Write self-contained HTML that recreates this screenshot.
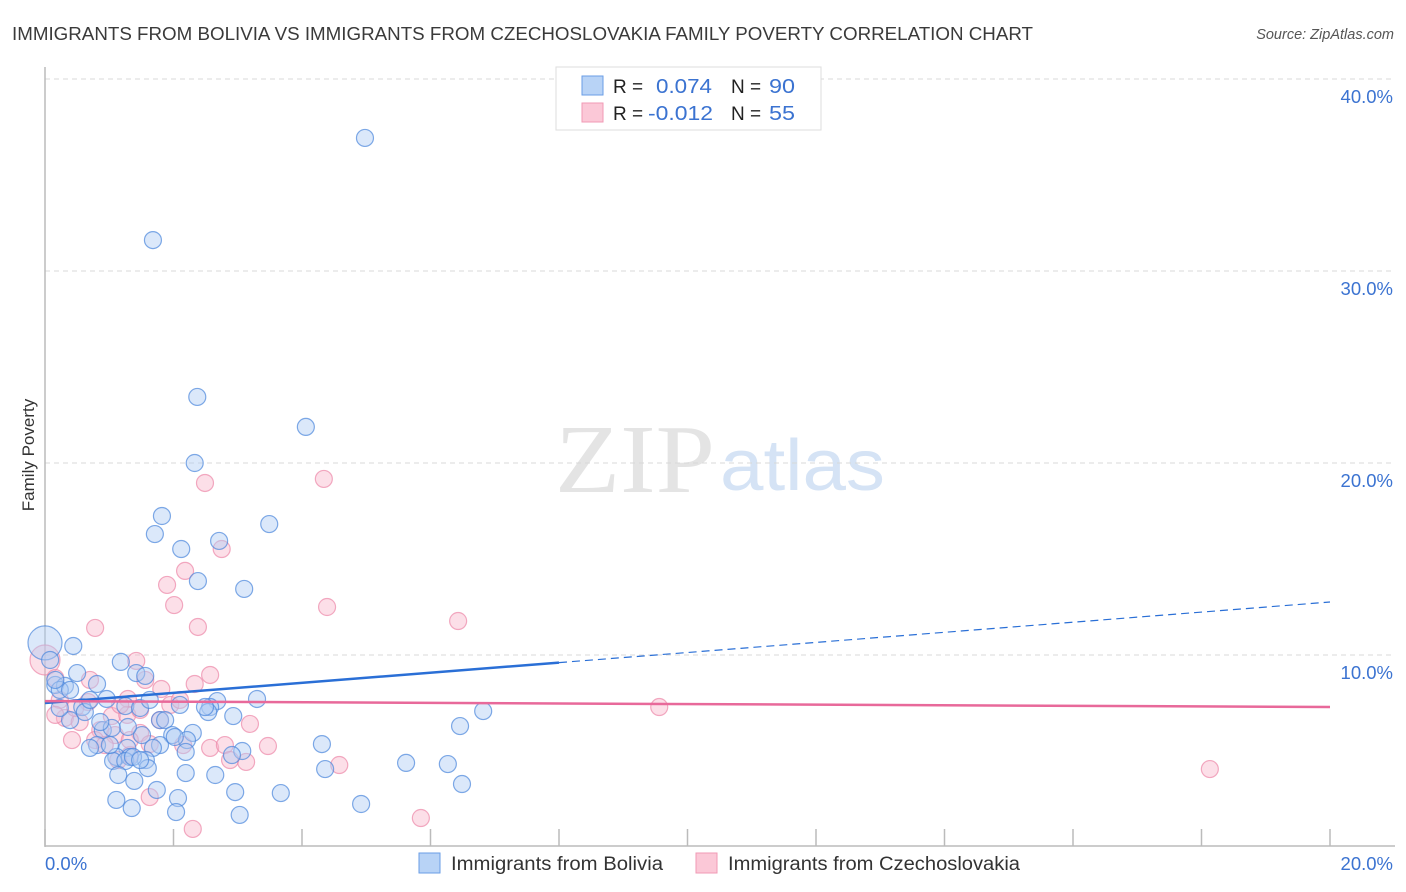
<!DOCTYPE html>
<html><head><meta charset="utf-8"><style>
body{margin:0;background:#fff;font-family:"Liberation Sans",sans-serif;}
#c{position:relative;width:1406px;height:892px;overflow:hidden;}
</style></head><body>
<div id="c">
<svg id="s" width="1406" height="892" xmlns="http://www.w3.org/2000/svg">
<text x="12" y="40" font-size="18" fill="#3a3a3a" textLength="1021" lengthAdjust="spacingAndGlyphs">IMMIGRANTS FROM BOLIVIA VS IMMIGRANTS FROM CZECHOSLOVAKIA FAMILY POVERTY CORRELATION CHART</text>
<text x="1394" y="39" font-size="14.5" font-style="italic" fill="#555" text-anchor="end">Source: ZipAtlas.com</text>
<text transform="translate(34,455) rotate(-90)" font-size="17" fill="#333" text-anchor="middle">Family Poverty</text>
<text x="555" y="492" font-family="Liberation Serif,serif" font-size="98" fill="#e4e4e4" textLength="160" lengthAdjust="spacingAndGlyphs">ZIP</text>
<text x="720" y="490" font-size="72" fill="#d5e3f5" textLength="165" lengthAdjust="spacingAndGlyphs">atlas</text>
<g id="grid"></g><g id="axes"></g><g id="pts"></g><g id="trend"></g>
<g>
<rect x="556" y="67" width="265" height="63" fill="#fff" stroke="#ddd"/>
<rect x="582" y="76" width="21" height="19" fill="#b8d3f6" stroke="#6a9ee6"/>
<rect x="582" y="103" width="21" height="19" fill="#fbc8d7" stroke="#f09ab4"/>
<text x="613" y="93" font-size="19" fill="#222">R = </text><text x="656" y="93" font-size="20" fill="#3b73d1" textLength="56" lengthAdjust="spacingAndGlyphs">0.074</text>
<text x="731" y="93" font-size="19" fill="#222">N = </text><text x="769" y="93" font-size="20" fill="#3b73d1" textLength="26" lengthAdjust="spacingAndGlyphs">90</text>
<text x="613" y="120" font-size="19" fill="#222">R = </text><text x="648" y="120" font-size="20" fill="#3b73d1" textLength="65" lengthAdjust="spacingAndGlyphs">-0.012</text>
<text x="731" y="120" font-size="19" fill="#222">N = </text><text x="769" y="120" font-size="20" fill="#3b73d1" textLength="26" lengthAdjust="spacingAndGlyphs">55</text>
</g>
<g>
<rect x="419" y="853" width="21" height="20" fill="#b8d3f6" stroke="#6a9ee6"/>
<text x="451" y="870" font-size="19" fill="#333" textLength="212" lengthAdjust="spacingAndGlyphs">Immigrants from Bolivia</text>
<rect x="696" y="853" width="21" height="20" fill="#fbc8d7" stroke="#f09ab4"/>
<text x="728" y="870" font-size="19" fill="#333" textLength="292" lengthAdjust="spacingAndGlyphs">Immigrants from Czechoslovakia</text>
</g>
</svg></div>
<script>
const yTicks=[10,20,30,40];
const yTickLabels=["10.0%","20.0%","30.0%","40.0%"];
const xTicks=[0,2,4,6,8,10,12,14,16,18,20];
const xEndLabels=["0.0%","20.0%"];
const bolX=[4.98,1.68,2.37,4.06,2.33,1.82,1.71,2.12,2.71,3.49,2.38,3.10,0,0.44,1.18,0.50,1.42,1.56,0.16,0.31,0.81,0.23,0.39,0.58,0.96,1.25,1.48,2.68,3.30,2.57,2.93,2.54,1.79,1.87,2.30,1.51,1.98,2.21,1.79,1.29,0.90,1.04,0.81,0.70,1.28,1.68,2.19,3.07,2.91,1.11,1.32,1.57,1.06,1.25,1.37,4.31,5.62,6.27,6.46,6.82,1.14,2.19,2.65,1.39,1.60,1.74,2.96,3.67,2.07,1.11,1.35,2.04,3.03,4.92,6.49,4.36,0.39,0.23,0.62,0.86,1.63,2.02,0.08,0.70,1.01,2.49,1.48,0.16,2.10];
const bolY=[36.93,31.61,23.44,21.88,20.0,17.24,16.30,15.52,15.94,16.82,13.85,13.44,10.63,10.47,9.64,9.06,9.06,8.91,8.44,8.39,8.49,8.18,8.18,7.29,7.71,7.34,7.24,7.60,7.71,7.29,6.82,7.03,6.61,6.61,5.94,5.83,5.83,5.57,5.31,6.25,6.09,6.20,5.31,5.16,5.16,5.16,4.95,5.00,4.79,4.69,4.69,4.53,4.48,4.48,4.69,5.36,4.38,4.32,6.30,7.08,3.75,3.85,3.75,3.44,4.11,2.97,2.86,2.81,2.55,2.45,2.03,1.82,1.67,2.24,3.28,4.06,6.61,7.24,7.03,6.51,7.66,5.73,9.74,7.66,5.31,7.29,4.53,8.70,7.40];
const czX=[4.34,2.49,2.75,2.18,1.90,2.01,2.38,0.78,4.39,6.43,0,1.42,2.57,1.56,0.16,1.81,2.33,1.29,1.95,0.67,1.04,1.28,9.56,0.31,0.54,1.48,3.19,0.86,1.09,2.57,2.80,3.47,2.15,0.42,1.63,0.78,3.13,4.58,1.32,1.14,1.63,2.30,5.85,18.13,0.23,0.47,0.16,1.48,1.79,0.93,1.17,0.70,1.32,2.88,2.10];
const czY=[19.17,18.96,15.52,14.38,13.65,12.60,11.46,11.41,12.50,11.77,9.74,9.69,8.96,8.70,8.80,8.23,8.49,7.71,7.40,7.55,6.82,6.88,7.29,6.72,6.51,5.94,6.41,6.09,5.83,5.16,5.31,5.26,5.31,5.57,5.36,5.57,4.43,4.27,4.79,4.53,2.60,0.94,1.51,4.06,7.66,7.24,6.88,7.14,6.61,5.31,7.40,8.70,5.57,4.53,7.66];
const bolTrend=[7.5,12.76];
const czTrend=[7.6,7.29];
const bolSolidEnd=8;
const NS="http://www.w3.org/2000/svg";
const X=v=>45+v*64.25, Y=v=>847-v*19.2;
function mk(t,a,p){const e=document.createElementNS(NS,t);for(const k in a)e.setAttribute(k,a[k]);p.appendChild(e);return e;}
const grid=document.getElementById('grid'),axes=document.getElementById('axes'),pts=document.getElementById('pts'),tr=document.getElementById('trend');
yTicks.forEach((v,i)=>{
 const l=mk('line',{x1:45,x2:1395,y1:Y(v),y2:Y(v),stroke:'#d8d8d8','stroke-dasharray':'5,4'},grid);
 
 
 const t=mk('text',{x:1393,y:Y(v)+24,'font-size':18.5,fill:'#3b73d1','text-anchor':'end'},axes);t.textContent=yTickLabels[i];
 
 
});
const ax=mk('line',{x1:45,x2:45,y1:67,y2:847,stroke:'#bbb','stroke-width':1.5},axes);


const bx=mk('line',{x1:45,x2:1395,y1:846,y2:846,stroke:'#bbb','stroke-width':1.5},axes);


xTicks.forEach(v=>{const t=mk('line',{x1:X(v),x2:X(v),y1:829,y2:846,stroke:'#bbb','stroke-width':1.5},axes);
 
 });
const l0=mk('text',{x:X(xTicks[0]),y:870,'font-size':18.5,fill:'#3b73d1'},axes);l0.textContent=xEndLabels[0];


const l1=mk('text',{x:1393,y:870,'font-size':18.5,fill:'#3b73d1','text-anchor':'end'},axes);l1.textContent=xEndLabels[1];


function dots(xs,ys,fill,stroke,name,bigIdx,bigR){xs.forEach((x,i)=>{
 const c=mk('circle',{cx:X(x),cy:Y(ys[i]),r:i===bigIdx?bigR:8.5,fill:fill,'fill-opacity':0.45,stroke:stroke,'stroke-width':1.2,'stroke-opacity':0.7},pts);
 
 });}
dots(czX,czY,'#f9b8cc','#ec88a8','point-czechoslovakia',10,15);
dots(bolX,bolY,'#b0cdf3','#4a86dc','point-bolivia',12,17);
const bAt=x=>bolTrend[0]+(bolTrend[1]-bolTrend[0])*x/20;
const b1=mk('line',{x1:X(0),y1:Y(bAt(0)),x2:X(bolSolidEnd),y2:Y(bAt(bolSolidEnd)),stroke:'#2a6fd6','stroke-width':2.5},tr);


const b2=mk('line',{x1:X(bolSolidEnd),y1:Y(bAt(bolSolidEnd)),x2:X(20),y2:Y(bAt(20)),stroke:'#2a6fd6','stroke-width':1.2,'stroke-dasharray':'8,5'},tr);


const p1=mk('line',{x1:X(0),y1:Y(czTrend[0]),x2:X(20),y2:Y(czTrend[1]),stroke:'#e8699a','stroke-width':2.5},tr);


</script></body></html>
